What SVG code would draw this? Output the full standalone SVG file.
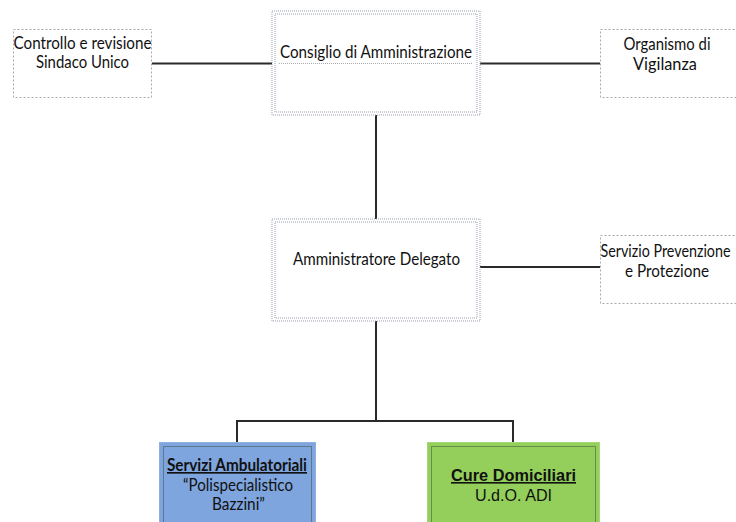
<svg xmlns="http://www.w3.org/2000/svg" width="736" height="522" viewBox="0 0 736 522">
<style>
.t{font-family:Lato,"Open Sans","Liberation Sans",sans-serif;font-size:16.5px;fill:#111;text-anchor:middle}
.a{font-family:"Liberation Sans",Arial,sans-serif;font-size:16px;fill:#111;text-anchor:middle}
.b{font-weight:bold;text-decoration:underline}
.side{fill:#fff;stroke:#aaa;stroke-width:1;stroke-dasharray:2 2}
.dbl{fill:none;stroke:#9a9fb0;stroke-width:1;stroke-dasharray:1 1}
.conn{fill:none;stroke:#2a2a2a;stroke-width:2}
.inner{fill:none;stroke:#3a4a3a;stroke-width:1;stroke-dasharray:1 1}
</style>
<rect width="736" height="522" fill="#fff"/>
<g id="connectors">
<path class="conn" d="M152,63.5H272"/>
<path class="conn" d="M480,63.5H600"/>
<path class="conn" d="M376,115V219"/>
<path class="conn" d="M480,267H600"/>
<path class="conn" d="M376,321V421"/>
<path class="conn" d="M237,442V421H513V442"/>
</g>
<g id="controllo">
<rect class="side" x="13.5" y="29.5" width="138" height="68"/>
<text class="t" x="82.5" y="49" textLength="138" lengthAdjust="spacingAndGlyphs">Controllo e revisione</text>
<text class="t" x="82.5" y="68" textLength="93" lengthAdjust="spacingAndGlyphs">Sindaco Unico</text>
</g>
<g id="consiglio">
<rect class="dbl" x="272" y="11" width="208" height="104" fill="#fff"/>
<rect class="dbl" x="275" y="14" width="202" height="98"/>
<text class="t" x="376" y="58" textLength="192" lengthAdjust="spacingAndGlyphs">Consiglio di Amministrazione</text>
<path d="M279,63.5H472" stroke="#aaa" stroke-width="1" stroke-dasharray="1 1"/>
</g>
<g id="organismo">
<rect class="side" x="600.5" y="29.5" width="140" height="68"/>
<text class="t" x="667" y="50" textLength="87" lengthAdjust="spacingAndGlyphs">Organismo di</text>
<text class="t" x="665" y="70" textLength="64" lengthAdjust="spacingAndGlyphs">Vigilanza</text>
</g>
<g id="amministratore">
<rect class="dbl" x="272" y="219" width="208" height="102" fill="#fff"/>
<rect class="dbl" x="275" y="222" width="202" height="96"/>
<text class="t" x="376.5" y="265" textLength="167" lengthAdjust="spacingAndGlyphs">Amministratore Delegato</text>
</g>
<g id="servizio-prevenzione">
<rect class="side" x="600.5" y="235.5" width="140" height="68"/>
<text class="t" x="665.5" y="257" textLength="130" lengthAdjust="spacingAndGlyphs">Servizio Prevenzione</text>
<text class="t" x="667" y="277" textLength="84" lengthAdjust="spacingAndGlyphs">e Protezione</text>
</g>
<g id="servizi-ambulatoriali">
<rect x="159.5" y="442.5" width="156" height="90" fill="#7ea5dd" stroke="#8fb0e0" stroke-width="1"/>
<rect class="inner" x="163.5" y="446.5" width="148" height="90"/>
<text class="t b" x="237" y="471" textLength="140" lengthAdjust="spacingAndGlyphs">Servizi Ambulatoriali</text>
<text class="t" x="238" y="491" textLength="110" lengthAdjust="spacingAndGlyphs">“Polispecialistico</text>
<text class="t" x="238.5" y="510" textLength="53" lengthAdjust="spacingAndGlyphs">Bazzini”</text>
</g>
<g id="cure-domiciliari">
<rect x="427.5" y="442.5" width="172" height="90" fill="#93cf5a" stroke="#a5d874" stroke-width="1"/>
<rect class="inner" x="431.5" y="446.5" width="164" height="90"/>
<text class="a b" x="513.5" y="481" textLength="125" lengthAdjust="spacingAndGlyphs">Cure Domiciliari</text>
<text class="a" x="513.5" y="501" textLength="77" lengthAdjust="spacingAndGlyphs">U.d.O. ADI</text>
</g>
</svg>
